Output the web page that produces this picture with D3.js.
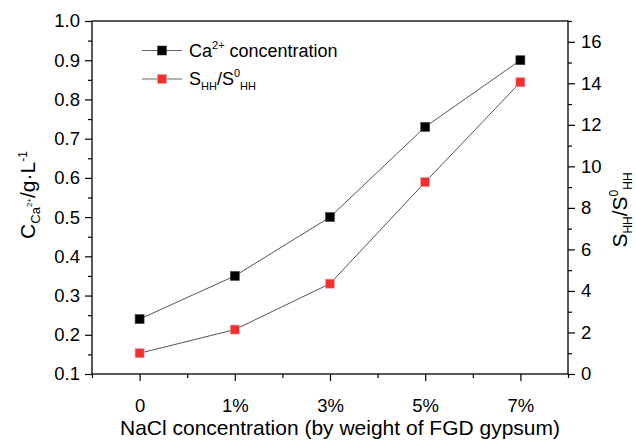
<!DOCTYPE html>
<html>
<head>
<meta charset="utf-8">
<script src="https://cdn.jsdelivr.net/npm/d3@7/dist/d3.min.js"></script>
<style>
  html, body { margin: 0; padding: 0; background: #fff; }
  svg { display: block; font-family: "Liberation Sans", Arial, sans-serif; }
</style>
</head>
<body>
<svg id="chart" width="636" height="441"></svg>
<script>
const categories = ["0", "1%", "3%", "5%", "7%"];
const caValues = [0.24, 0.35, 0.50, 0.73, 0.90];
const shhValues = [1.0, 2.14, 4.35, 9.24, 14.05];
const leftTicks = [0.1, 0.2, 0.3, 0.4, 0.5, 0.6, 0.7, 0.8, 0.9, 1.0];
const leftMinor = [0.15, 0.25, 0.35, 0.45, 0.55, 0.65, 0.75, 0.85, 0.95];
const rightTicks = [0, 2, 4, 6, 8, 10, 12, 14, 16];
const rightMinor = [1, 3, 5, 7, 9, 11, 13, 15, 17];
const xMinor = [-0.5, 0.5, 1.5, 2.5, 3.5, 4.5];

const svg = d3.select("#chart");
const L = 92, R = 568, T = 21, B = 374;

const x = d3.scaleLinear().domain([-0.5, 4.5]).range([L, R]);
const yL = d3.scaleLinear().domain([0.1, 1.0]).range([B, T]);
const yR = d3.scaleLinear().domain([0, 17]).range([B, T]);

function style(g, size) {
  g.select(".domain").remove();
  g.selectAll("line").attr("stroke", "#000").attr("stroke-width", 1.2);
  g.selectAll("text").attr("font-size", size).attr("fill", "#000")
    .attr("font-family", "Liberation Sans, Arial, sans-serif");
}

// Left axis
svg.append("g").attr("transform", `translate(${L},0)`)
  .call(d3.axisLeft(yL).tickValues(leftTicks).tickFormat(d3.format(".1f")).tickSize(7).tickPadding(5))
  .call(g => style(g, 18.5));
svg.append("g").attr("transform", `translate(${L},0)`)
  .call(d3.axisLeft(yL).tickValues(leftMinor).tickFormat("").tickSize(4))
  .call(g => style(g, 18.5));

// Right axis
svg.append("g").attr("transform", `translate(${R},0)`)
  .call(d3.axisRight(yR).tickValues(rightTicks).tickSize(7).tickPadding(6))
  .call(g => style(g, 18.5));
svg.append("g").attr("transform", `translate(${R},0)`)
  .call(d3.axisRight(yR).tickValues(rightMinor).tickFormat("").tickSize(4))
  .call(g => style(g, 18.5));

// Bottom axis
svg.append("g").attr("transform", `translate(0,${B})`)
  .call(d3.axisBottom(x).tickValues([0, 1, 2, 3, 4]).tickFormat(i => categories[i]).tickSize(7).tickPadding(18))
  .call(g => style(g, 18.5));
svg.append("g").attr("transform", `translate(0,${B})`)
  .call(d3.axisBottom(x).tickValues(xMinor).tickFormat("").tickSize(4))
  .call(g => style(g, 18.5));

// Frame
svg.append("rect").attr("x", L).attr("y", T).attr("width", R - L).attr("height", B - T)
  .attr("fill", "none").attr("stroke", "#000").attr("stroke-width", 1.3);

// Lines
const lineCa = d3.line().x((d, i) => x(i)).y(d => yL(d));
const lineS = d3.line().x((d, i) => x(i)).y(d => yR(d));
svg.append("path").attr("d", lineCa(caValues)).attr("fill", "none").attr("stroke", "#555").attr("stroke-width", 1);
svg.append("path").attr("d", lineS(shhValues)).attr("fill", "none").attr("stroke", "#555").attr("stroke-width", 1);

const S = 9;
svg.append("g").selectAll("rect").data(caValues).join("rect")
  .attr("x", (d, i) => x(i) - S / 2).attr("y", d => yL(d) - S / 2)
  .attr("width", S).attr("height", S).attr("fill", "#000").attr("stroke", "#444").attr("stroke-width", 0.6);
svg.append("g").selectAll("rect").data(shhValues).join("rect")
  .attr("x", (d, i) => x(i) - S / 2).attr("y", d => yR(d) - S / 2)
  .attr("width", S).attr("height", S).attr("fill", "#ee3030").attr("stroke", "#f59a9a").attr("stroke-width", 0.6);

// Legend
const legend = [
  { y: 50.5, fill: "#000", stroke: "#444" },
  { y: 79, fill: "#ee3030", stroke: "#f59a9a" }
];
legend.forEach(d => {
  svg.append("line").attr("x1", 142).attr("x2", 182).attr("y1", d.y).attr("y2", d.y)
    .attr("stroke", "#666").attr("stroke-width", 1);
  svg.append("rect").attr("x", 162 - S / 2).attr("y", d.y - S / 2).attr("width", S).attr("height", S)
    .attr("fill", d.fill).attr("stroke", d.stroke).attr("stroke-width", 0.6);
});
const t1 = svg.append("text").attr("x", 189).attr("y", 57).attr("font-size", 18);
t1.append("tspan").text("Ca");
t1.append("tspan").attr("font-size", 11).attr("dy", -8).text("2+");
t1.append("tspan").attr("dy", 8).text(" concentration");

const t2 = svg.append("text").attr("x", 189).attr("y", 85).attr("font-size", 18);
t2.append("tspan").text("S");
t2.append("tspan").attr("font-size", 11).attr("dy", 5).text("HH");
t2.append("tspan").attr("dy", -5).text("/S");
t2.append("tspan").attr("font-size", 11).attr("dy", -8).text("0");
t2.append("tspan").attr("font-size", 11).attr("dy", 13).text("HH");

// X title
svg.append("text").attr("x", 340).attr("y", 435).attr("text-anchor", "middle")
  .attr("font-size", 21).text("NaCl concentration (by weight of FGD gypsum)");

// Left title
const lt = svg.append("text").attr("transform", "translate(35,195) rotate(-90)")
  .attr("text-anchor", "middle").attr("font-size", 21);
lt.append("tspan").text("C");
lt.append("tspan").attr("font-size", 13).attr("dy", 5).text("Ca");
lt.append("tspan").attr("font-size", 8).attr("dy", -8).text("2+");
lt.append("tspan").attr("dy", 3).text("/g·L");
lt.append("tspan").attr("font-size", 12).attr("dy", -8).text("-1");

// Right title
const rt = svg.append("text").attr("transform", "translate(627,210) rotate(-90)")
  .attr("text-anchor", "middle").attr("font-size", 21);
rt.append("tspan").text("S");
rt.append("tspan").attr("font-size", 12).attr("dy", 5).text("HH");
rt.append("tspan").attr("dy", -5).text("/S");
rt.append("tspan").attr("font-size", 12).attr("dy", -9).text("0");
rt.append("tspan").attr("font-size", 12).attr("dy", 14).text("HH");
</script>
</body>
</html>
